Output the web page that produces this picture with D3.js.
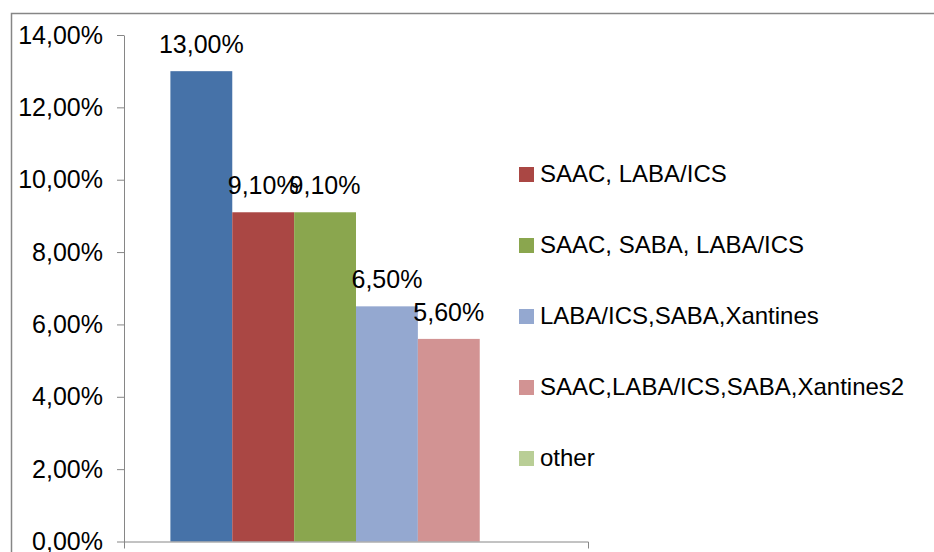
<!DOCTYPE html>
<html>
<head>
<meta charset="utf-8">
<script src="https://cdn.jsdelivr.net/npm/d3@7/dist/d3.min.js"></script>
<style>
  html, body { margin: 0; padding: 0; background: #fff; }
  svg { display: block; font-family: "Liberation Sans", Arial, sans-serif; }
</style>
</head>
<body>
<svg id="chart" width="934" height="552"></svg>
<script>
// Treatment combinations and their share of patients
const seriesKeys = ["s1", "s2", "s3", "s4", "s5", "s6"];
const seriesNames = ["", "SAAC, LABA/ICS", "SAAC, SABA, LABA/ICS", "LABA/ICS,SABA,Xantines", "SAAC,LABA/ICS,SABA,Xantines2", "other"];
const seriesValues = [0.13, 0.091, 0.091, 0.065, 0.056, null];
const seriesColors = ["#4672A8", "#AA4744", "#8AA64E", "#94A8D0", "#D29393", "#B9CE96"];
const legendKeys = ["s2", "s3", "s4", "s5", "s6"];
const yTicks = [0, 0.02, 0.04, 0.06, 0.08, 0.10, 0.12, 0.14];
const categories = [""];

const svg = d3.select("#chart");
const pctFmt = v => d3.format(".2f")(v * 100).replace(".", ",") + "%";

// chart frame
svg.append("rect")
  .attr("x", 11.5).attr("y", 13.5)
  .attr("width", 1000).attr("height", 600)
  .attr("fill", "none").attr("stroke", "#868686").attr("stroke-width", 1.5);

const y = d3.scaleLinear().domain([0, 0.14]).range([541.5, 35]);
const x0 = d3.scaleBand().domain(categories).range([124, 588]).padding(0);
const x1 = d3.scaleBand().domain(seriesKeys).range([0, x0.bandwidth()])
  .paddingInner(0).paddingOuter(0.75);
const color = d3.scaleOrdinal().domain(seriesKeys).range(seriesColors);

const data = seriesKeys.map((k, i) => ({ key: k, name: seriesNames[i], value: seriesValues[i] }));
const drawn = data.filter(d => d.value != null);

// bars
const g = svg.append("g").attr("transform", `translate(${x0(categories[0])},0)`);
g.selectAll("rect.bar").data(drawn).join("rect")
  .attr("class", "bar")
  .attr("x", d => x1(d.key))
  .attr("width", x1.bandwidth())
  .attr("y", d => y(d.value))
  .attr("height", d => y(0) - y(d.value))
  .attr("fill", d => color(d.key));

// value labels
g.selectAll("text.lbl").data(drawn).join("text")
  .attr("class", "lbl")
  .attr("x", d => x1(d.key) + x1.bandwidth() / 2)
  .attr("y", d => y(d.value) - 18)
  .attr("text-anchor", "middle")
  .attr("font-size", 25)
  .attr("fill", "#000")
  .text(d => pctFmt(d.value));

// y axis
const yAxis = svg.append("g").attr("transform", "translate(124,0)")
  .call(d3.axisLeft(y).tickValues(yTicks).tickFormat(pctFmt)
    .tickSize(7).tickSizeOuter(0).tickPadding(14));
yAxis.selectAll("path, line").attr("stroke", "#868686");
yAxis.selectAll("text").attr("font-size", 25).attr("fill", "#000")
  .attr("font-family", "'Liberation Sans', Arial, sans-serif");

// x axis
const xAxis = svg.append("g").attr("transform", `translate(0,${y(0)})`)
  .call(d3.axisBottom(x0).tickSize(0).tickSizeOuter(7).tickFormat(() => ""));
xAxis.selectAll("path, line").attr("stroke", "#868686");

// legend
const legend = svg.append("g").selectAll("g").data(legendKeys).join("g")
  .attr("transform", (d, i) => `translate(519,${167 + i * 71})`);
legend.append("rect").attr("width", 15).attr("height", 15)
  .attr("fill", d => color(d));
legend.append("text")
  .attr("x", 21).attr("y", 15)
  .attr("font-size", 24).attr("fill", "#000")
  .text(d => seriesNames[seriesKeys.indexOf(d)]);
</script>
</body>
</html>
